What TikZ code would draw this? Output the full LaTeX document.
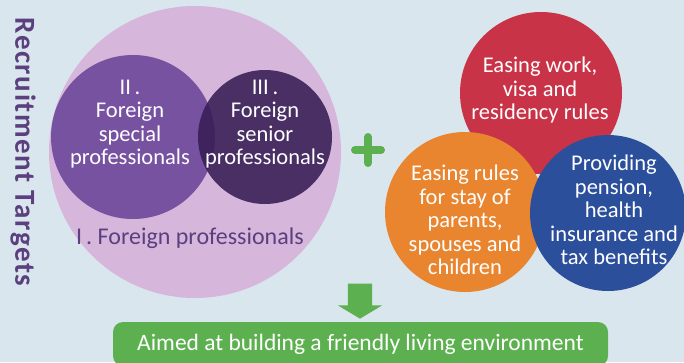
\documentclass[tikz,border=0pt]{standalone}
\usepackage{fontspec}
\setmainfont{Carlito}
\usetikzlibrary{shapes.arrows}
\definecolor{paperbg}{HTML}{D9E6EE}
\definecolor{outerpink}{HTML}{D6B6DB}
\definecolor{specialviolet}{HTML}{7752A0}
\definecolor{seniorviolet}{HTML}{371D55}
\definecolor{titleviolet}{HTML}{5B3F7E}
\definecolor{easered}{HTML}{C93347}
\definecolor{easeorange}{HTML}{E9852F}
\definecolor{easeblue}{HTML}{2C4F9C}
\definecolor{aimgreen}{HTML}{5DB04F}

\begin{document}
\begin{tikzpicture}[x=1pt,y=-1pt,
  disc/.style={circle, inner sep=0pt, minimum size=#1},
  lbl/.style={text=white, align=center, font=\fontsize{22.5}{23.5}\selectfont},
  goalbox/.style={fill=aimgreen, rounded corners=10pt, minimum width=495pt, minimum height=44pt, inner sep=0pt, text=white, font=\fontsize{23.5}{25}\selectfont},
  downarrow/.style={single arrow, fill=aimgreen, shape border rotate=270, inner sep=0pt, minimum width=44pt, minimum height=35pt, single arrow head extend=10pt, single arrow tip angle=118, text width=24pt},
  plusmark/.style={draw=aimgreen, line width=8pt, line cap=round}]
\clip (0,0) rectangle (684,362);
\fill[paperbg] (0,0) rectangle (684,362);
% recruitment targets
\node[rotate=-90, text=titleviolet, font=\fontsize{29}{30}\selectfont\bfseries\addfontfeatures{LetterSpace=5.5}] (title) at (23,152) {Recruitment Targets};
\node[disc=292pt, fill=outerpink] (cI) at (195,152) {};
\node[disc=164pt, fill=specialviolet] (cII) at (133,137) {};
\node[disc=134pt, fill=seniorviolet, fill opacity=0.88] (cIII) at (265,137) {};
\node[lbl] (tII) at (130,124) {II\,.\\Foreign\\special\\professionals};
\node[lbl] (tIII) at (265,124) {III\,.\\Foreign\\senior\\professionals};
\node[lbl, text=titleviolet, font=\fontsize{24}{25}\selectfont] (tI) at (190,238) {I\,. Foreign professionals};
% plus
\coordinate (plus) at (368,150);
\draw[plusmark] ([xshift=-13pt]plus) -- ([xshift=13pt]plus);
\draw[plusmark] ([yshift=-13pt]plus) -- ([yshift=13pt]plus);
% measures
\node[disc=162pt, fill=easered] (work) at (541,93) {};
\node[disc=160pt, fill=easeorange] (family) at (465,212) {};
\node[disc=156pt, fill=easeblue] (benefit) at (608,213) {};
\node[lbl] (twork) at (540,90) {Easing work,\\visa and\\residency rules};
\node[lbl] (tfamily) at (465,220) {Easing rules\\for stay of\\parents,\\spouses and\\children};
\node[lbl] (tbenefit) at (614,210) {Providing\\pension,\\health\\insurance and\\tax benefits};
% goal
\node[downarrow] (down) at (360,297.5) {};
\node[goalbox] (goal) at (360.5,344) {Aimed at building a friendly living environment};
\end{tikzpicture}
\end{document}
